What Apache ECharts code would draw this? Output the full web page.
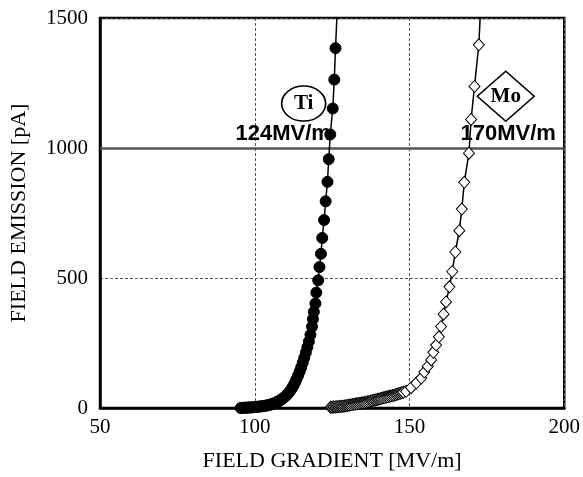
<!DOCTYPE html>
<html>
<head>
<meta charset="utf-8">
<script src="https://cdn.jsdelivr.net/npm/echarts@6/dist/echarts.min.js"></script>
<style>html,body{margin:0;padding:0;background:#fff;}#c{width:583px;height:477px;}</style>
</head>
<body>
<div id="c"></div>
<script>
var xTicks = [50, 100, 150, 200];
var yTicks = [0, 500, 1000, 1500];

var tiX = [95.5,96,96.5,97,97.5,98,98.5,99,99.5,100,100.5,101,101.5,102,102.5,103,103.5,104,104.5,105,105.5,106,106.5,107,107.5,108,108.5,109,109.5,110,110.5,111,111.5,112,112.5,113,113.5,114,114.5,115,115.5,116,116.5,117,117.5,118,118.5,118.8,119.1,119.6,119.9,120.5,120.9,121.4,121.8,122.4,122.9,123.5,123.9,124.4,125.2,125.7,126.1,126.6];
var tiY = [0,0.5,1,1,1.5,2,2,2.5,3,3.5,4,5,5.5,6,7,8,9,10,11,13,15,17,19,22,25,28,32,36,41,46,52,59,67,76,86,98,111,125,140,156,174,193,213,234,256,282,313,342,370,402,444,491,542,593,654,723,795,870,957,1052,1152,1263,1384,1520];

var moX = [124.5,125,125.5,126,126.5,127,127.5,128,128.5,129,129.5,130,130.5,131,131.5,132,132.5,133,133.5,134,134.5,135,135.5,136,136.5,137,137.5,138,138.5,139,139.5,140,140.5,141,141.5,142,142.5,143,143.5,144,144.5,145,145.5,146,146.5,147,147.5,148,148.9,150.5,152.2,153.8,154.8,155.9,157.0,157.7,158.6,159.5,160.2,161.0,161.8,162.9,163.8,164.8,166.1,166.9,167.7,169.2,169.9,171.0,172.4,172.9];
var moY = [3,3,4,4,5,5,6,6,7,8,9,10,11,12,13,14,15,16,17,18,19,20,21,22,24,25,27,28,30,31,33,34,36,37,39,40,42,43,45,46,48,49,51,53,55,57,59,61,64,78,96,115,138,160,185,214,242,274,313,361,408,466,525,600,682,765,868,980,1110,1237,1397,1520];

var thresholdY = 1000;
var tiLabel = '124MV/m';
var moLabel = '170MV/m';

function pairs(xs, ys) { return xs.map(function (x, i) { return [x, ys[i]]; }); }

var serif = '"Liberation Serif", "Times New Roman", serif';
var sans = '"Liberation Sans", Arial, sans-serif';

var chart = echarts.init(document.getElementById('c'), null, {renderer: 'canvas'});
chart.setOption({
  animation: false,
  backgroundColor: '#fff',
  grid: {left: 100, right: 18, top: 18, bottom: 65, show: true, borderColor: '#000', borderWidth: 2.5, backgroundColor: 'transparent'},
  xAxis: {
    type: 'value', min: xTicks[0], max: xTicks[xTicks.length - 1], interval: 50,
    name: 'FIELD GRADIENT [MV/m]', nameLocation: 'middle', nameGap: 42,
    nameTextStyle: {fontFamily: serif, fontSize: 22, color: '#000'},
    axisLine: {show: true, lineStyle: {color: '#000', width: 2.5}},
    axisTick: {show: false},
    axisLabel: {fontFamily: serif, fontSize: 21, color: '#000', margin: 9},
    splitLine: {show: true, lineStyle: {color: '#555', width: 1, type: [3, 2]}}
  },
  yAxis: {
    type: 'value', min: yTicks[0], max: yTicks[yTicks.length - 1], interval: 500,
    name: 'FIELD EMISSION [pA]', nameLocation: 'middle', nameGap: 70,
    nameTextStyle: {fontFamily: serif, fontSize: 22, color: '#000'},
    axisLine: {show: true, lineStyle: {color: '#000', width: 2.5}},
    axisTick: {show: false},
    axisLabel: {fontFamily: serif, fontSize: 21, color: '#000', margin: 12, formatter: function (v) { return String(v); }},
    splitLine: {show: true, lineStyle: {color: '#555', width: 1, type: [3, 2]}}
  },
  series: [
    {
      name: 'Ti', type: 'line', data: pairs(tiX, tiY), clip: true, z: 3,
      symbol: 'circle', symbolSize: 11,
      itemStyle: {color: '#000', borderColor: '#000'},
      lineStyle: {color: '#000', width: 1.5},
      markLine: {
        silent: true, symbol: 'none', z: 2,
        label: {show: false},
        lineStyle: {color: '#555', width: 2.5, type: 'solid'},
        data: [{yAxis: thresholdY}]
      },
      markPoint: {
        silent: true, z: 1,
        data: [
          {coord: [115.8, 1171], symbol: 'circle', symbolSize: [44, 35],
           itemStyle: {color: '#fff', borderColor: '#000', borderWidth: 1.5},
           label: {show: true, position: 'inside', formatter: 'Ti', fontFamily: serif, fontWeight: 'bold', fontSize: 21, color: '#000'}},
          {coord: [109.2, 1056], symbol: 'rect', symbolSize: 1,
           itemStyle: {color: 'rgba(0,0,0,0)'},
           label: {show: true, position: 'inside', formatter: tiLabel, fontFamily: sans, fontWeight: 'bold', fontSize: 22, color: '#000'}}
        ]
      }
    },
    {
      name: 'Mo', type: 'line', data: pairs(moX, moY), clip: true, z: 3,
      symbol: 'diamond', symbolSize: [11, 12],
      itemStyle: {color: '#fff', borderColor: '#000', borderWidth: 1},
      lineStyle: {color: '#000', width: 1.5},
      markPoint: {
        silent: true, z: 1,
        data: [
          {coord: [181.1, 1199], symbol: 'diamond', symbolSize: [57, 50],
           itemStyle: {color: '#fff', borderColor: '#000', borderWidth: 1.5},
           label: {show: true, position: 'inside', formatter: 'Mo', fontFamily: serif, fontWeight: 'bold', fontSize: 21, color: '#000'}},
          {coord: [181.9, 1056], symbol: 'rect', symbolSize: 1,
           itemStyle: {color: 'rgba(0,0,0,0)'},
           label: {show: true, position: 'inside', formatter: moLabel, fontFamily: sans, fontWeight: 'bold', fontSize: 22, color: '#000'}}
        ]
      }
    }
  ]
});
</script>
</body>
</html>
